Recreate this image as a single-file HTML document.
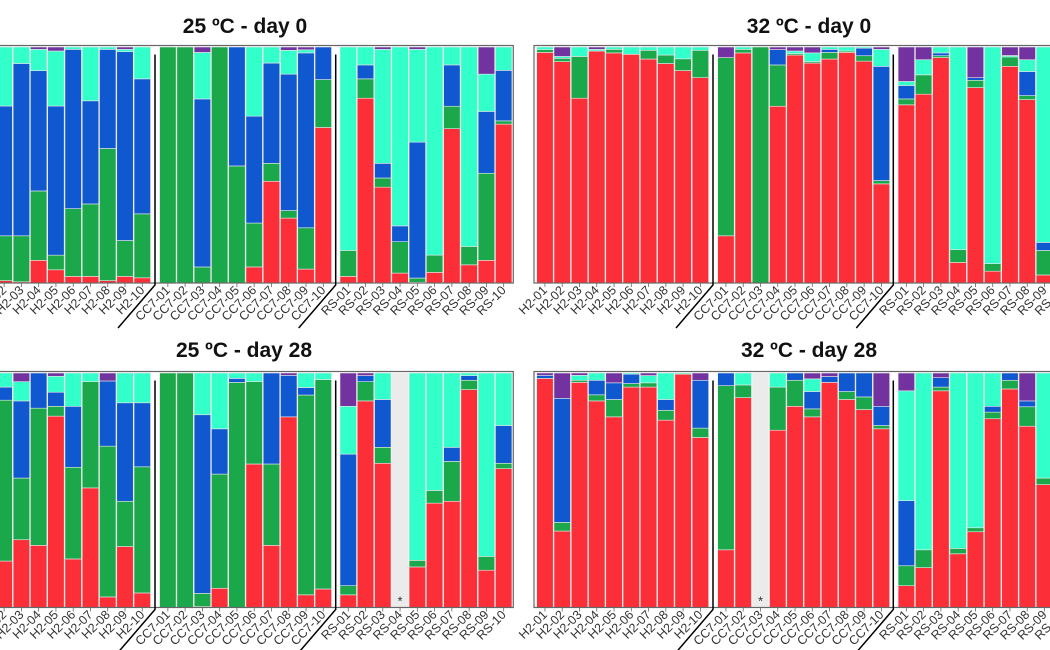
<!DOCTYPE html>
<html><head><meta charset="utf-8"><style>
html,body{margin:0;padding:0;background:#fff;width:1050px;height:650px;overflow:hidden}
svg{display:block}
</style></head><body>
<svg id="s" width="1050" height="650" xmlns="http://www.w3.org/2000/svg" font-family="Liberation Sans, sans-serif"></svg>
<script>
const C=['#fc2f39','#1aa84b','#0f58cf','#33ffcb','#7232a0'];
const P={
tl:{x0:-21.4,top:45.5,bot:283,title:'25 ºC - day 0',tx:245,ty:33,sep:[155,335.7],
 d:[[[0.01,0.2,0.75,1],[0.01,0.2,0.75,1],[0.005,0.2,0.93,1],[0.096,0.39,0.9,0.99],[0.056,0.118,0.75,0.983],[0.028,0.315,0.99,1],[0.028,0.335,0.772,1],[0.01,0.57,0.99,1],[0.028,0.18,0.98,0.99],[0.022,0.293,0.865,1]],
 [[0,1,1,1],[0,1,1,1],[0,0.068,0.78,0.977],[0,1,1,1],[0,0.496,1,1],[0.068,0.254,0.707,1],[0.431,0.507,0.932,1],[0.275,0.307,0.885,0.986],[0.059,0.234,0.975,0.988],[0.659,0.862,1,1]],
 [[0.028,0.138,0.138,1],[0.783,0.865,0.924,1],[0.406,0.445,0.507,0.99],[0.042,0.175,0.242,1],[0.003,0.021,0.597,0.99],[0.045,0.118,0.118,1],[0.654,0.749,0.924,1],[0.077,0.155,0.155,1],[0.096,0.465,0.727,0.885],[0.673,0.687,0.901,1]]]},
tr:{x0:536.7,top:45.5,bot:283,title:'32 ºC - day 0',tx:809,ty:33,sep:[713,893.3],
 d:[[[0.977,0.989,0.989,1],[0.938,0.952,0.952,0.96],[0.783,0.96,0.96,1],[0.983,0.983,0.983,0.99],[0.975,0.99,0.99,1],[0.969,0.969,0.969,1],[0.949,0.986,0.986,1],[0.93,0.966,0.966,1],[0.9,0.95,0.95,1],[0.87,0.986,0.986,1]],
 [[0.2,0.955,0.955,0.955],[0.975,0.99,0.99,1],[0,1,1,1],[0.749,0.924,0.989,0.989],[0.966,0.972,0.972,0.983],[0.932,0.938,0.938,0.975],[0.949,0.977,0.99,1],[0.977,0.983,0.983,1],[0.94,0.963,0.995,1],[0.42,0.434,0.918,0.99]],
 [[0.755,0.78,0.837,0.854],[0.8,0.882,0.882,0.946],[0.955,0.963,0.975,1],[0.087,0.141,0.141,1],[0.828,0.859,0.87,0.87],[0.05,0.082,0.082,1],[0.918,0.958,0.958,0.964],[0.777,0.794,0.896,0.946],[0.034,0.138,0.172,1],[0.6,0.65,0.7,1]]]},
bl:{x0:-21.4,top:371.5,bot:607.5,title:'25 ºC - day 28',tx:244,ty:357,sep:[155,335.7],
 d:[[[0.3,0.8,0.9,1],[0.198,0.884,0.94,1],[0.289,0.552,0.881,0.963],[0.265,0.85,1,1],[0.816,0.858,0.918,0.986],[0.207,0.598,0.858,1],[0.51,0.963,0.963,1],[0.045,0.688,0.966,0.966],[0.26,0.453,0.873,1],[0.062,0.6,0.873,1]],
 [[0,1,1,1],[0,1,1,1],[0.004,0.06,0.822,1],[0.082,0.569,0.762,1],[0,0.96,0.977,1],[0.612,0.963,0.963,1],[0.265,0.612,1,1],[0.813,0.813,0.99,0.99],[0.054,0.906,0.938,1],[0.079,0.972,0.972,1]],
 [[0.054,0.093,0.654,0.858],[0.881,0.963,0.989,0.989],[0.615,0.683,0.887,1],null,[0.173,0.201,0.201,1],[0.445,0.499,0.499,1],[0.453,0.623,0.683,1],[0.929,0.969,0.989,1],[0.159,0.218,0.218,1],[0.592,0.615,0.776,1]]]},
br:{x0:536.7,top:371.5,bot:607.5,title:'32 ºC - day 28',tx:809,ty:357,sep:[713,893.3],
 d:[[[0.977,0.977,0.99,0.99],[0.326,0.363,0.892,0.892],[0.96,0.969,0.969,0.99],[0.881,0.907,0.969,1],[0.813,0.887,0.958,0.958],[0.94,0.955,0.995,1],[0.94,0.958,0.958,0.989],[0.799,0.841,0.887,1],[0.995,0.995,0.995,1],[0.725,0.765,0.969,0.969]],
 [[0.246,0.946,1,1],[0.895,0.949,0.949,1],null,[0.756,0.94,0.94,1],[0.858,0.969,1,1],[0.813,0.847,0.921,0.975],[0.96,0.96,0.985,0.985],[0.887,0.921,1,1],[0.844,0.898,1,1],[0.762,0.776,0.858,0.858]],
 [[0.093,0.178,0.456,0.924],[0.17,0.246,0.246,1],[0.924,0.94,0.98,0.98],[0.229,0.252,0.252,1],[0.323,0.34,0.34,1],[0.805,0.833,0.858,1],[0.932,0.969,1,1],[0.773,0.856,0.881,0.881],[0.524,0.552,0.552,1],[0.6,0.65,0.7,1]]]}
};
const names=['H2-','CC7-','RS-'],offs=[0,181,361.4],pitch=17.27,bw=16.5;
let h='';
for(const k in P){const p=P[k],T=p.top+1.5,H=p.bot-T;
 const left=k[1]=='l'?-25:534,right=k[1]=='l'?513.3:1060;
 h+=`<text x="${p.tx}" y="${p.ty}" font-size="21" font-weight="bold" text-anchor="middle" fill="#111">${p.title}</text>`;
 p.d.forEach((g,gi)=>g.forEach((b,i)=>{
  const x=p.x0+offs[gi]+i*pitch,cx=x+bw/2;
  if(b===null){h+=`<rect x="${x}" y="${T}" width="${bw}" height="${H}" fill="#ebebeb"/><text x="${cx}" y="${p.bot-2}" font-size="13" text-anchor="middle" fill="#333">*</text>`;}
  else{const v=[0,...b,1];
   for(let j=0;j<5;j++){const a=v[j],c=v[j+1];if(c-a<=0.0005)continue;
    h+=`<rect x="${x}" y="${(p.bot-c*H).toFixed(2)}" width="${bw}" height="${((c-a)*H).toFixed(2)}" fill="${C[j]}" stroke="#e8e8e8" stroke-width="0.6"/>`;}}
  h+=`<line x1="${cx}" y1="${p.bot}" x2="${cx}" y2="${p.bot+4}" stroke="#666" stroke-width="0.8"/>`;
  const nm=names[gi]+String(i+1).padStart(2,'0');
  h+=`<text transform="translate(${cx+3},${p.bot+8}) rotate(-45)" font-size="12.5" text-anchor="end" fill="#333">${nm}</text>`;
 }));
 h+=`<rect x="${left}" y="${p.top}" width="${right-left}" height="${p.bot-p.top}" fill="none" stroke="#666" stroke-width="1.2"/>`;
 p.sep.forEach(s=>{h+=`<polyline points="${s},${p.top+9} ${s},${p.bot+2} ${s-37},${p.bot+45}" fill="none" stroke="#000" stroke-width="1.5"/>`;});
}
document.getElementById('s').innerHTML=h;
</script>
</body></html>
